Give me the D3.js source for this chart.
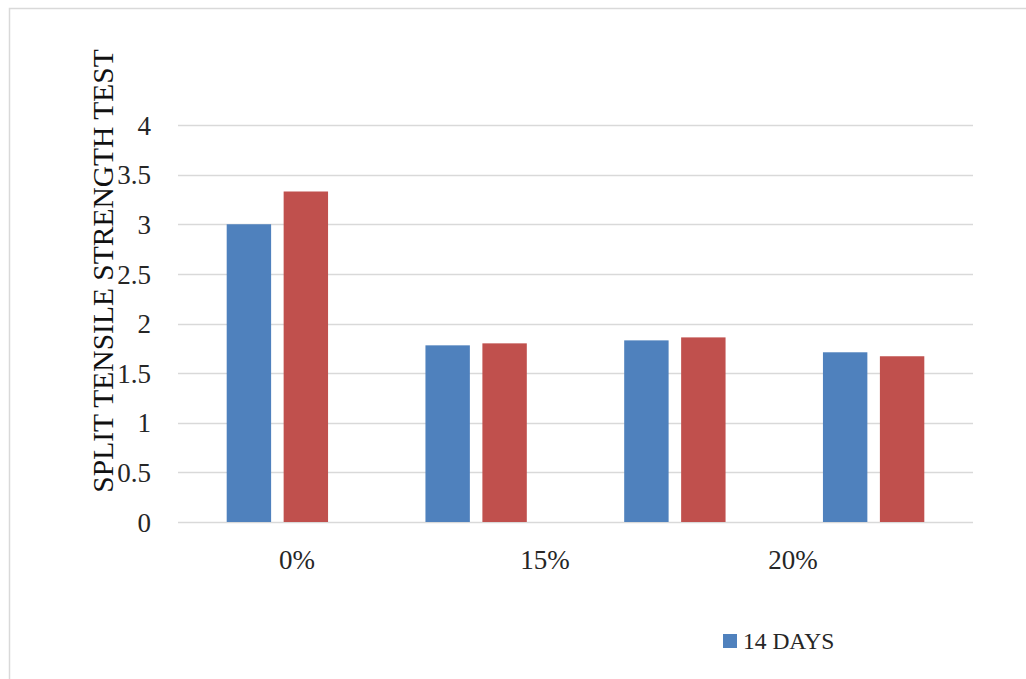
<!DOCTYPE html>
<html>
<head>
<meta charset="utf-8">
<script src="https://cdn.jsdelivr.net/npm/d3@7"></script>
<style>
  html, body { margin: 0; padding: 0; background: #ffffff; }
  svg { display: block; }
  text { font-family: "Liberation Serif", "Times New Roman", serif; }
</style>
</head>
<body>
<svg id="chart" width="1026" height="679"></svg>
<script>
// Split tensile strength by replacement level
const groups = ["g1", "g2", "g3", "g4"];
const categoryLabels = ["0%", "15%", "20%"];
const seriesNames = ["14 DAYS", "28 DAYS"];
const days14 = [3.00, 1.78, 1.83, 1.71];
const days28 = [3.33, 1.80, 1.86, 1.67];
const yTicks = [0, 0.5, 1, 1.5, 2, 2.5, 3, 3.5, 4];
const legendNames = ["14 DAYS"];
const yTitle = "SPLIT TENSILE STRENGTH TEST";

const colors = { "14 DAYS": "#4f81bd", "28 DAYS": "#c0504d" };

const svg = d3.select("#chart");
const plot = { left: 178, right: 973, top: 125, bottom: 522 };

// outer frame
svg.append("rect")
  .attr("x", 9.5).attr("y", 8.5)
  .attr("width", 1040).attr("height", 700)
  .attr("fill", "none").attr("stroke", "#d9d9d9").attr("stroke-width", 1.5);

const y = d3.scaleLinear().domain([0, 4]).range([plot.bottom, plot.top]);

const x0 = d3.scaleBand().domain(groups)
  .range([plot.left, plot.right])
  .paddingInner(0.49).paddingOuter(0.245);

const x1 = d3.scaleBand().domain(seriesNames)
  .range([0, x0.bandwidth()])
  .paddingInner(0.22);

// gridlines
svg.append("g")
  .selectAll("line")
  .data(yTicks)
  .join("line")
  .attr("x1", plot.left).attr("x2", plot.right)
  .attr("y1", d => Math.round(y(d)) + 0.5).attr("y2", d => Math.round(y(d)) + 0.5)
  .attr("stroke", "#d9d9d9").attr("stroke-width", 1.3);

// y axis labels
const yAxis = d3.axisLeft(y).tickValues(yTicks).tickSize(0).tickPadding(0)
  .tickFormat(d3.format("~g"));
const yg = svg.append("g").attr("transform", `translate(151,0)`).call(yAxis);
yg.select(".domain").remove();
yg.selectAll("text")
  .attr("font-family", "Liberation Serif, Times New Roman, serif")
  .attr("font-size", 27).attr("fill", "#262626").attr("dy", "0.34em");

// bars
const rows = groups.map((g, i) => ({ group: g, values: [
  { name: seriesNames[0], value: days14[i] },
  { name: seriesNames[1], value: days28[i] }
]}));

svg.append("g")
  .selectAll("g")
  .data(rows)
  .join("g")
  .attr("transform", d => `translate(${x0(d.group)},0)`)
  .selectAll("rect")
  .data(d => d.values)
  .join("rect")
  .attr("x", d => x1(d.name))
  .attr("width", x1.bandwidth())
  .attr("y", d => y(d.value))
  .attr("height", d => y(0) - y(d.value))
  .attr("fill", d => colors[d.name]);

// category labels
const xl = d3.scalePoint().domain(categoryLabels).range([297, 793]);
svg.append("g")
  .selectAll("text")
  .data(categoryLabels)
  .join("text")
  .attr("x", d => xl(d))
  .attr("y", 569)
  .attr("text-anchor", "middle")
  .attr("font-size", 27)
  .attr("fill", "#262626")
  .text(d => d);

// y axis title
svg.append("text")
  .attr("transform", "translate(113,271) rotate(-90)")
  .attr("text-anchor", "middle")
  .attr("font-size", 29.5)
  .attr("fill", "#111")
  .text(yTitle);

// legend
const lg = svg.append("g").attr("transform", "translate(723,634)");
const li = lg.selectAll("g").data(legendNames).join("g");
li.append("rect").attr("width", 14).attr("height", 14).attr("fill", d => colors[d]);
li.append("text").attr("x", 20).attr("y", 15)
  .attr("font-size", 23.5).attr("fill", "#262626").text(d => d);
</script>
</body>
</html>
